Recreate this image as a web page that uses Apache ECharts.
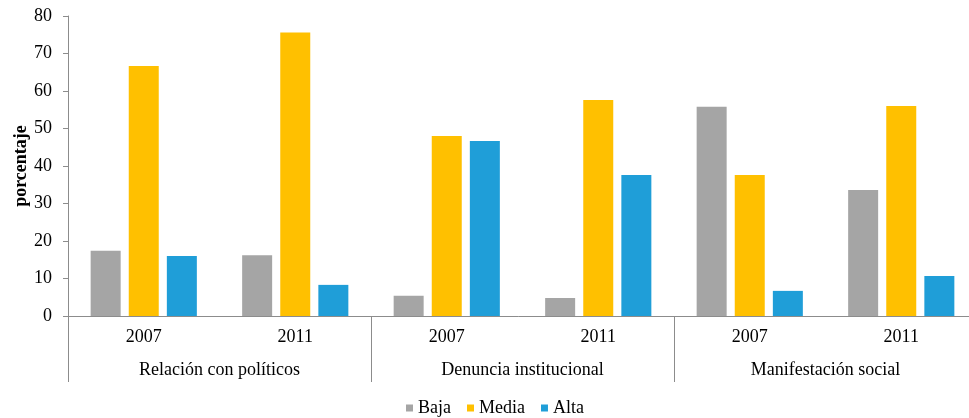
<!DOCTYPE html>
<html>
<head>
<meta charset="utf-8">
<script src="https://cdn.jsdelivr.net/npm/echarts@6/dist/echarts.min.js"></script>
<style>html,body{margin:0;padding:0;background:#fff;}#c{width:969px;height:418px;}</style>
</head>
<body>
<div id="c"></div>
<script>
var years = ['2007', '2011', '2007', '2011', '2007', '2011'];
var groups = ['Relación con políticos', 'Denuncia institucional', 'Manifestación social'];
var baja = [17.4, 16.2, 5.4, 4.8, 55.8, 33.6];
var media = [66.7, 75.6, 48.0, 57.6, 37.6, 56.0];
var alta = [16.0, 8.3, 46.7, 37.6, 6.7, 10.7];
var yTicks = {min: 0, max: 80, interval: 10};

var serif = 'Liberation Serif';
var axisColor = '#8c8c8c';
var chart = echarts.init(document.getElementById('c'));
function bar(name, data, color) {
  return {
    name: name, type: 'bar', data: data, xAxisIndex: 0,
    barWidth: 30, barGap: '27%',
    itemStyle: {color: color}
  };
}
chart.setOption({
  animation: false,
  grid: {left: 68, top: 16, height: 300, width: 909, containLabel: false, outerBoundsMode: 'none'},
  legend: {
    left: 401, top: 394, itemWidth: 7, itemHeight: 7, itemGap: 16,
    icon: 'rect',
    textStyle: {fontFamily: serif, fontSize: 18, color: '#000'},
    data: ['Baja', 'Media', 'Alta']
  },
  xAxis: [{
    type: 'category', data: years, position: 'bottom',
    axisLine: {lineStyle: {color: axisColor, width: 1}},
    axisTick: {show: true, length: 66, interval: function (i) { return i % 2 === 0; }, lineStyle: {color: axisColor}},
    axisLabel: {fontFamily: serif, fontSize: 18, color: '#000', margin: 12, interval: 0}
  }, {
    type: 'category', data: groups, position: 'bottom',
    axisLine: {show: false}, axisTick: {show: false},
    axisLabel: {fontFamily: serif, fontSize: 18, color: '#000', margin: 45, interval: 0}
  }],
  yAxis: {
    type: 'value', min: yTicks.min, max: yTicks.max, interval: yTicks.interval,
    name: 'porcentaje', nameLocation: 'middle', nameGap: 38, nameRotate: 90,
    nameMoveOverlap: false,
    nameTextStyle: {fontFamily: serif, fontSize: 18, fontWeight: 'bold', color: '#000'},
    axisLine: {show: true, lineStyle: {color: axisColor}},
    axisTick: {show: true, length: 5, lineStyle: {color: axisColor}},
    splitLine: {show: false},
    axisLabel: {fontFamily: serif, fontSize: 18, color: '#000', margin: 16}
  },
  series: [
    bar('Baja', baja, '#A5A5A5'),
    bar('Media', media, '#FFC000'),
    bar('Alta', alta, '#1F9ED8')
  ]
});
</script>
</body>
</html>
